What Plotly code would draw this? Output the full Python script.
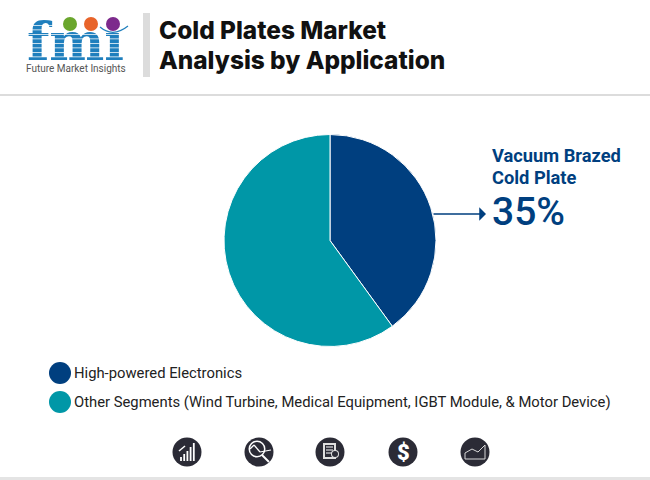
import plotly.graph_objects as go

W = 650
H = 480

segments = ["High-powered Electronics", "Other Segments (Wind Turbine, Medical Equipment, IGBT Module, & Motor Device)"]
shares = [40, 60]
colors = ["#003f7f", "#0097a7"]
callout_lines = ["Vacuum Brazed", "Cold Plate"]
callout_value = "35%"
title_lines = ["Cold Plates Market", "Analysis by Application"]
logo_dots = ["#6aa62d", "#e8642a", "#7d2a8c"]
icon_x = [187, 259, 330, 403, 475]


def px(x):
    return x / W


def py(y):
    return 1 - y / H


def rect(x0, y0, x1, y1, color):
    return dict(type="rect", xref="paper", yref="paper", x0=px(x0), x1=px(x1),
                y0=py(y1), y1=py(y0), fillcolor=color, line_width=0, layer="above")


def circle(cx, cy, r, color):
    return dict(type="circle", xref="paper", yref="paper", x0=px(cx - r), x1=px(cx + r),
                y0=py(cy + r), y1=py(cy - r), fillcolor=color, line_width=0, layer="above")


def seg(x0, y0, x1, y1, color="white", width=1.2):
    return dict(type="line", xref="paper", yref="paper", x0=px(x0), x1=px(x1),
                y0=py(y0), y1=py(y1), line=dict(color=color, width=width), layer="above")


def label(x, y, text, size, color, weight="normal", family="Roboto", anchor="left"):
    return dict(xref="paper", yref="paper", x=px(x), y=py(y), text=text, showarrow=False,
                xanchor=anchor, yanchor="middle", align=anchor,
                font=dict(size=size, color=color, family=family, weight=weight))


fig = go.Figure(
    go.Pie(
        labels=segments,
        values=shares,
        sort=False,
        direction="clockwise",
        rotation=0,
        textinfo="none",
        hoverinfo="label+percent",
        showlegend=False,
        marker=dict(colors=colors, line=dict(color="white", width=1)),
        domain=dict(x=[px(224), px(436)], y=[py(346.5), py(134.5)]),
    )
)

# wordmark as a text trace so the white stripes can sit on top of it
fig.add_trace(go.Scatter(
    x=[75.5], y=[47], mode="text", text=["fmi"], hoverinfo="skip", showlegend=False,
    textposition="middle center",
    textfont=dict(size=52, color="#1f7fbd", family="DejaVu Serif", weight=700),
))

shapes = [
    rect(0, 94, W, 96, "#dcdcdc"),
    rect(0, 477, W, 480, "#e4e4e4"),
    rect(143, 13, 150, 77, "#dcdcdc"),
    circle(60, 373, 11, colors[0]),
    circle(60, 402, 11, colors[1]),
]

# stripes across the logo wordmark
y = 25.0
while y < 62:
    shapes.append(rect(26, y, 130, y + 0.7, "white"))
    y += 4.5

# logo dots and swoosh
for cx, c in zip([70, 91, 113], logo_dots):
    shapes.append(circle(cx, 24, 7, c))
shapes.append(dict(type="path", xref="paper", yref="paper", layer="above",
                   path=f"M {px(100)} {py(27)} Q {px(113)} {py(38)} {px(128)} {py(26)}",
                   line=dict(color="#1f7fbd", width=1.2)))

# round icons
for x in icon_x:
    shapes.append(circle(x, 452, 14.5, "#2b2b36"))
for i, h in enumerate([4, 7, 10, 14, 18]):
    bx = 181 + i * 3.2
    shapes.append(seg(bx, 461, bx, 461 - h, width=1.8))
shapes.append(seg(179, 451, 185, 446, width=1.5))
shapes.append(circle(257, 449, 8.5, "white"))
shapes.append(circle(257, 449, 7, "#2b2b36"))
shapes.append(seg(250, 449, 254, 445))
shapes.append(seg(254, 445, 260, 452))
shapes.append(seg(260, 452, 271, 450))
shapes.append(seg(262, 455, 269, 462, width=2))
shapes.append(rect(323, 443, 336, 459, "#dfdfdf"))
shapes.append(rect(325, 445, 334, 457, "#2b2b36"))
for y in [447, 450, 453]:
    shapes.append(seg(326, y, 333, y, width=1))
shapes.append(circle(335, 454, 4, "#dfdfdf"))
shapes.append(circle(335, 454, 3, "#2b2b36"))
shapes.append(seg(465, 459, 485, 459, "#d8d8d8", 1))
shapes.append(seg(465, 453, 472, 449, "#d8d8d8", 1))
shapes.append(seg(472, 449, 478, 452, "#d8d8d8", 1))
shapes.append(seg(478, 452, 485, 445, "#d8d8d8", 1))
shapes.append(seg(485, 445, 485, 459, "#d8d8d8", 1))
shapes.append(seg(465, 453, 465, 459, "#d8d8d8", 1))

annotations = [
    label(157, 30, title_lines[0], 24.4, "#111111", weight=800, family="Inter"),
    label(157, 60, title_lines[1], 24.4, "#111111", weight=800, family="Inter"),
    label(490, 156, callout_lines[0], 18.3, colors[0], weight=700),
    label(490, 177, callout_lines[1], 18.3, colors[0], weight=700),
    label(490, 212, callout_value, 39, colors[0], weight=500),
    label(72, 373, segments[0], 14.8, "#222222"),
    label(72, 402, segments[1], 14.8, "#222222"),
    label(403, 452, "$", 22, "white", weight=900, anchor="center"),
    label(76, 68.5, "Future Market Insights", 10, "#555555", anchor="center"),
    # arrow
    dict(xref="paper", yref="paper", x=px(486), y=py(214), ax=-54, ay=0, text="", showarrow=True,
         arrowhead=1, arrowsize=1.5, arrowwidth=1.5, arrowcolor=colors[0]),
]

fig.update_layout(
    width=W,
    height=H,
    margin=dict(l=0, r=0, t=0, b=0),
    paper_bgcolor="white",
    plot_bgcolor="white",
    xaxis=dict(visible=False, range=[0, W], domain=[0, 1]),
    yaxis=dict(visible=False, range=[H, 0], domain=[0, 1]),
    shapes=shapes,
    annotations=annotations,
)

fig.write_html("out.html", config={"displayModeBar": False}, post_script="document.body.style.margin='0';")
